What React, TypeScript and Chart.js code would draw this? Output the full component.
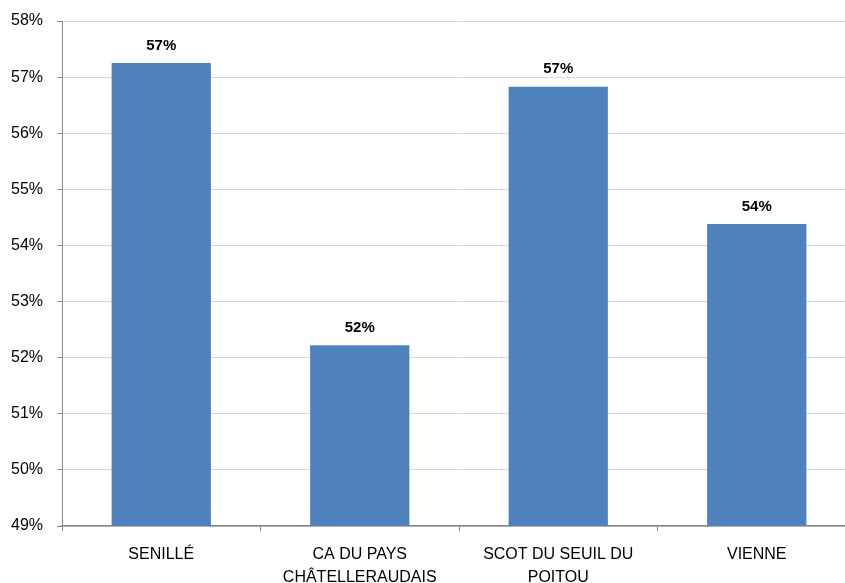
import React, { useEffect, useRef } from "react";
import { Chart, registerables } from "chart.js";

Chart.register(...registerables);

const categories: (string | string[])[] = [
  "SENILLÉ",
  ["CA DU PAYS", "CHÂTELLERAUDAIS"],
  ["SCOT DU SEUIL DU", "POITOU"],
  "VIENNE",
];
const values: number[] = [57.25, 52.22, 56.83, 54.38];
const yMin = 49;
const yMax = 58;

const FONT = "'Liberation Sans', Arial, sans-serif";

const dataLabels = {
  id: "dataLabels",
  afterDatasetsDraw(chart: any) {
    const ctx = chart.ctx;
    const meta = chart.getDatasetMeta(0);
    ctx.save();
    ctx.font = `bold 15px ${FONT}`;
    ctx.fillStyle = "#000";
    ctx.textAlign = "center";
    ctx.textBaseline = "bottom";
    meta.data.forEach((bar: any, i: number) => {
      ctx.fillText(Math.round(values[i]) + "%", bar.x, bar.y - 10);
    });
    ctx.restore();
  },
};

export default function App() {
  const ref = useRef<HTMLCanvasElement>(null);
  useEffect(() => {
    const chart = new Chart(ref.current!, {
      type: "bar",
      data: {
        labels: categories,
        datasets: [
          {
            data: values,
            backgroundColor: "#4F81BD",
            borderWidth: 0,
            categoryPercentage: 1,
            barPercentage: 0.5,
          },
        ],
      },
      options: {
        animation: false,
        responsive: false,
        layout: { padding: { top: 21, right: 0, left: 0, bottom: 0 } },
        plugins: { legend: { display: false }, tooltip: { enabled: false } },
        scales: {
          x: {
            grid: {
              offset: true,
              drawOnChartArea: false,
              drawTicks: true,
              tickLength: 5,
              color: "#868686",
            },
            border: { display: true, color: "#868686", width: 1.5 },
            ticks: {
              color: "#000",
              font: { family: FONT, size: 16, lineHeight: 1.45 },
              padding: 12,
              maxRotation: 0,
              autoSkip: false,
            },
            afterFit(scale: any) {
              scale.height = 57;
              scale.paddingLeft = 0;
              scale.paddingRight = 0;
            },
          },
          y: {
            min: yMin,
            max: yMax,
            grid: {
              color: "#D9D9D9",
              tickColor: "#868686",
              tickLength: 5,
              lineWidth: 1,
            },
            border: { display: true, color: "#868686", width: 1 },
            ticks: {
              stepSize: 1,
              color: "#000",
              font: { family: FONT, size: 16 },
              padding: 14,
              callback: (v: any) => v + "%",
            },
            afterFit(scale: any) {
              scale.width = 62;
              scale.paddingTop = 0;
              scale.paddingBottom = 0;
            },
          },
        },
      },
      plugins: [dataLabels],
    });
    return () => chart.destroy();
  }, []);
  return (
    <div style={{ position: "fixed", left: 0, top: 0, width: 856, height: 583, overflow: "hidden", background: "#fff" }}>
      <canvas ref={ref} width={856} height={583} />
    </div>
  );
}
